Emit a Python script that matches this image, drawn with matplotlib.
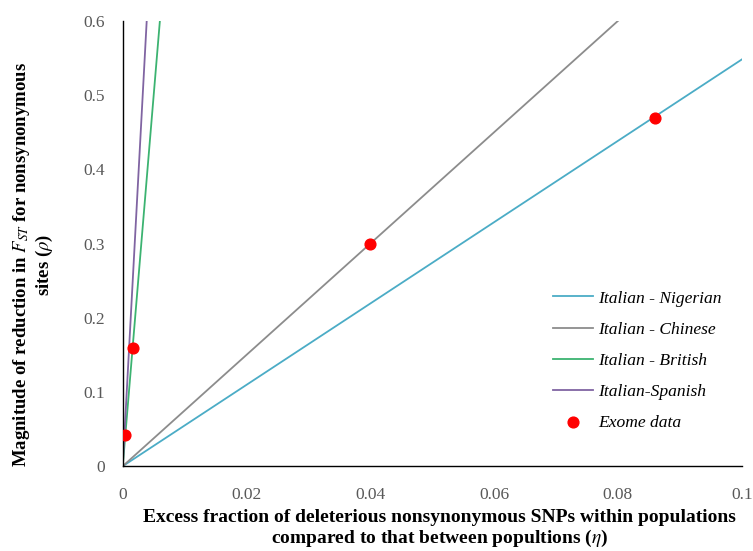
import numpy as np
import matplotlib.pyplot as plt

plt.rcParams['font.family'] = ['Liberation Serif', 'DejaVu Serif']
plt.rcParams['mathtext.fontset'] = 'stix'

# ---- data ----
pairs = ['Italian - Nigerian', 'Italian - Chinese', 'Italian - British', 'Italian-Spanish']
slopes = [5.48, 7.5, 100.0, 155.0]
colors = ['#4bacc6', '#8c8c8c', '#3cb371', '#8064a2']
exome_x = [0.0003, 0.0016, 0.040, 0.086]
exome_y = [0.042, 0.159, 0.300, 0.469]
x_range = np.array([0.0, 0.1])

fig = plt.figure(figsize=(7.53, 5.51), dpi=100)
ax = fig.add_axes([0.163, 0.154, 0.822, 0.808])

for name, s, c in zip(pairs, slopes, colors):
    ax.plot(x_range, s * x_range, color=c, lw=1.3, label=name, zorder=2)
ax.scatter(exome_x, exome_y, color='#ff0000', s=60, zorder=3, label='Exome data')

ax.set_xlim(0, 0.1)
ax.set_ylim(0, 0.6)
ax.set_xticks([0, 0.02, 0.04, 0.06, 0.08, 0.1])
ax.set_xticklabels(['0', '0.02', '0.04', '0.06', '0.08', '0.1'])
ax.set_yticks([0, 0.1, 0.2, 0.3, 0.4, 0.5, 0.6])
ax.set_yticklabels(['0', '0.1', '0.2', '0.3', '0.4', '0.5', '0.6'])
ax.tick_params(length=0, labelsize=12.5, labelcolor='#595959')
ax.tick_params(axis='x', pad=15)
ax.tick_params(axis='y', pad=13)
ax.spines['top'].set_visible(False)
ax.spines['right'].set_visible(False)
ax.spines['left'].set_linewidth(1.0)
ax.spines['bottom'].set_linewidth(1.0)

ax.set_xlabel('Excess fraction of deleterious nonsynonymous SNPs within populations\n'
              r'compared to that between popultions ($\eta$)',
              fontsize=14, fontweight='bold', linespacing=1.15)
ax.xaxis.set_label_coords(0.512, -0.096)
ax.set_ylabel('Magnitude of reduction in $F_{ST}$ for nonsynonymous\n'
              r'sites ($\rho$)', fontsize=13.5, fontweight='bold', linespacing=1.15)
ax.yaxis.set_label_coords(-0.109, 0.452)

leg = ax.legend(loc='upper left', bbox_to_anchor=(0.695, 0.395), frameon=False,
                prop={'style': 'italic', 'size': 12.6}, handlelength=2.3,
                labelspacing=0.85, handletextpad=0.3, borderpad=0, borderaxespad=0)

fig.savefig('out.png', dpi=100)
